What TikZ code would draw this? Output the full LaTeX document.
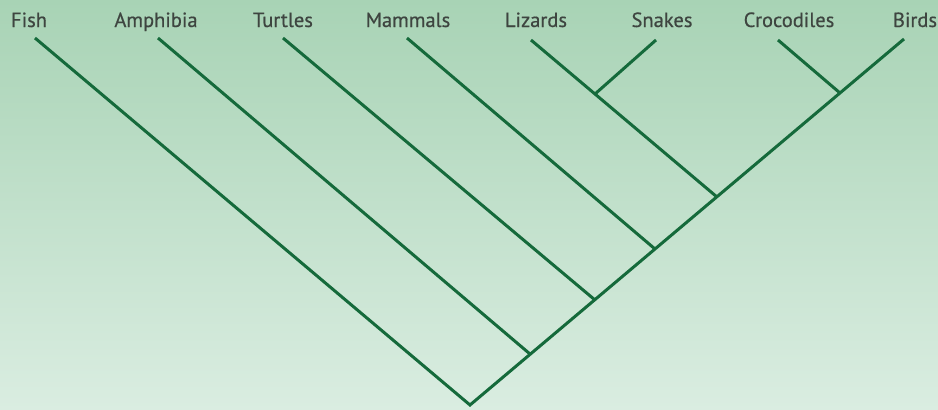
\documentclass[tikz,border=0pt]{standalone}
\usepackage{fontspec}
\setmainfont{PT Sans}
\newfontfamily\taxonfont{PT Sans}[FakeBold=0.5]
\definecolor{treegreen}{HTML}{156A3B}
\definecolor{bgtop}{HTML}{A8D3B5}
\definecolor{bgbottom}{HTML}{DAEDE1}
\definecolor{labelgray}{HTML}{3E4540}

\begin{document}
\begin{tikzpicture}[x=1pt, y=-1pt,
    taxon/.style={text=labelgray, font=\taxonfont\fontsize{20.5}{24}\selectfont, anchor=base, inner sep=0pt},
    branch/.style={draw=treegreen, line width=3pt}
]

\fill[top color=bgtop, bottom color=bgbottom] (0,0) rectangle (938,410);

% taxa
\node[taxon] (fishlbl)  at (29,27)  {Fish};
\node[taxon] (amphlbl)  at (156,27) {Amphibia};
\node[taxon] (turtlbl)  at (283,27) {Turtles};
\node[taxon] (mammlbl)  at (408,27) {Mammals};
\node[taxon] (lizlbl)   at (536,27) {Lizards};
\node[taxon] (snakelbl) at (662,27) {Snakes};
\node[taxon] (croclbl)  at (789,27) {Crocodiles};
\node[taxon] (birdlbl)  at (915,27) {Birds};

% tips
\coordinate (fish)  at (35,38);
\coordinate (amph)  at (158,38);
\coordinate (turt)  at (283,38);
\coordinate (mamm)  at (407,38);
\coordinate (liz)   at (531,40);
\coordinate (snake) at (656,40);
\coordinate (croc)  at (778,40);
\coordinate (bird)  at (904,39);

% junctions
\coordinate (root)   at (470,405);
\coordinate (jamph)  at (530,354);
\coordinate (jturt)  at (595,300);
\coordinate (jmamm)  at (655,249);
\coordinate (jliz)   at (717,197);
\coordinate (jsnake) at (595,94);
\coordinate (jcroc)  at (840,93);

\draw[branch] (fish) -- (root) -- (bird);
\draw[branch] (amph) -- (jamph);
\draw[branch] (turt) -- (jturt);
\draw[branch] (mamm) -- (jmamm);
\draw[branch] (liz) -- (jliz);
\draw[branch] (snake) -- (jsnake);
\draw[branch] (croc) -- (jcroc);

\end{tikzpicture}
\end{document}
